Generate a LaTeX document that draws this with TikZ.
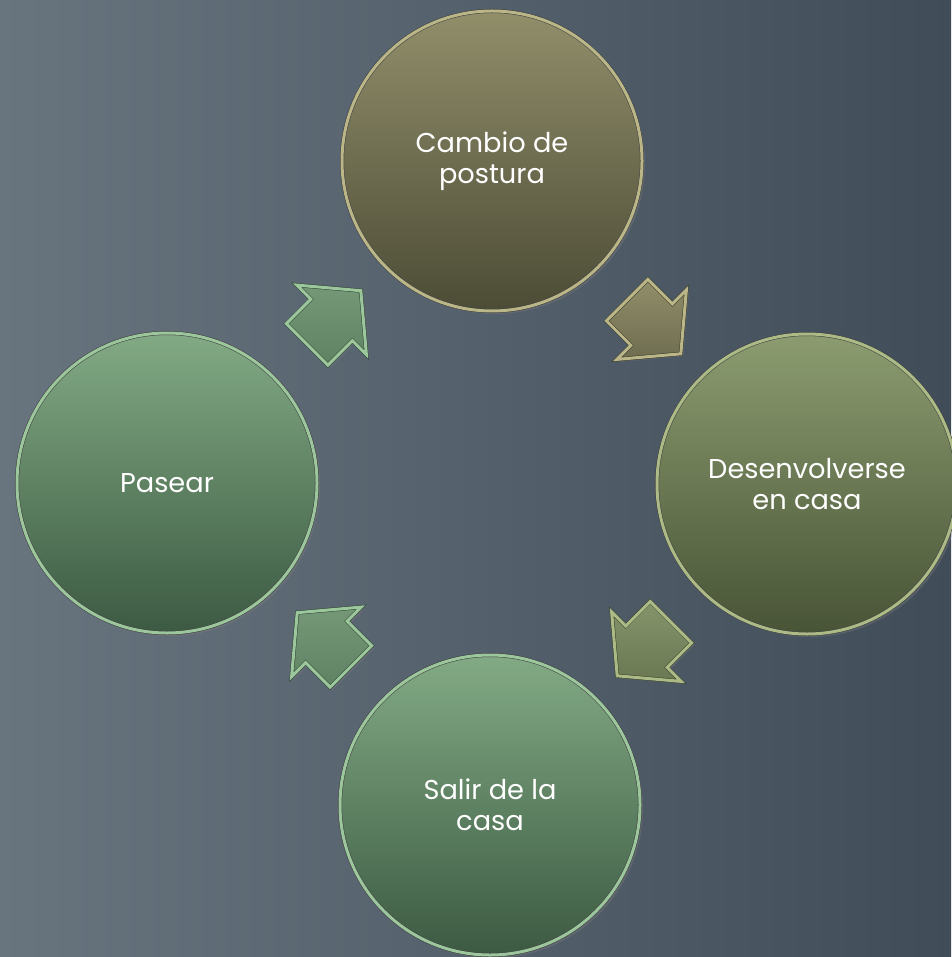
\documentclass[tikz,border=0pt]{standalone}
\usepackage{fontspec}
\setmainfont{Poppins}
\usetikzlibrary{calc, shapes.arrows, shadows}

\definecolor{bgleft}{RGB}{104,116,126}
\definecolor{bgright}{RGB}{64,76,88}
\definecolor{khakitop}{RGB}{145,142,106}
\definecolor{khakibot}{RGB}{76,76,54}
\definecolor{olivetop}{RGB}{140,156,112}
\definecolor{olivebot}{RGB}{72,84,54}
\definecolor{greentop}{RGB}{130,170,132}
\definecolor{greenbot}{RGB}{60,90,66}
\definecolor{khakirim}{RGB}{186,182,136}
\definecolor{olivrim}{RGB}{172,186,134}
\definecolor{greenrim}{RGB}{156,198,156}

\begin{document}
\begin{tikzpicture}[x=0.2mm, y=-0.2mm,
	stage/.style={circle, minimum size=60mm, inner sep=0pt, align=center,
		text=white, font=\fontsize{15.5}{17.6}\selectfont,
		draw=black!75, line width=0.3pt, double distance=0.6mm,
		drop shadow={opacity=0.35, shadow xshift=0.6mm, shadow yshift=-0.6mm}},
	flow/.style={single arrow, rotate=#1, xshift=-1.2mm, minimum height=15.2mm,
		single arrow head extend=4mm, single arrow tip angle=100,
		inner xsep=0pt, inner ysep=5.8mm,
		line width=0.3pt, double distance=0.6mm,
		drop shadow={opacity=0.35, shadow xshift=0.5mm, shadow yshift=-0.5mm}}]

	% background
	\useasboundingbox (0,0) rectangle (951,957);
	\fill[left color=bgleft, right color=bgright] (0,0) rectangle (951,957);

	% the four stages
	\node[stage, top color=khakitop, bottom color=khakibot, double=khakirim] (cambio) at (492,161) {Cambio de\\postura};
	\node[stage, top color=olivetop, bottom color=olivebot, double=olivrim] (desenv) at (807,484) {Desenvolverse\\en casa};
	\node[stage, top color=greentop, bottom color=greenbot, double=greenrim] (salir) at (490,805) {Salir de la\\casa};
	\node[stage, top color=greentop, bottom color=greenbot, double=greenrim] (pasear) at (167,483) {Pasear};

	% arrows between them
	\node[flow=45, top color=greentop!90!black, bottom color=greenbot!50!greentop, draw=greenbot!80!black, double=greenrim] (a1) at ($(pasear)!0.5!(cambio)$) {};
	\node[flow=-45, top color=khakitop, bottom color=khakibot!50!khakitop, draw=khakibot!80!black, double=khakirim] (a2) at ($(cambio)!0.5!(desenv)$) {};
	\node[flow=-135, top color=olivetop!95!black, bottom color=olivebot!50!olivetop, draw=olivebot!80!black, double=olivrim] (a3) at ($(desenv)!0.5!(salir)$) {};
	\node[flow=135, top color=greentop!90!black, bottom color=greenbot!50!greentop, draw=greenbot!80!black, double=greenrim] (a4) at ($(salir)!0.5!(pasear)$) {};
\end{tikzpicture}
\end{document}
